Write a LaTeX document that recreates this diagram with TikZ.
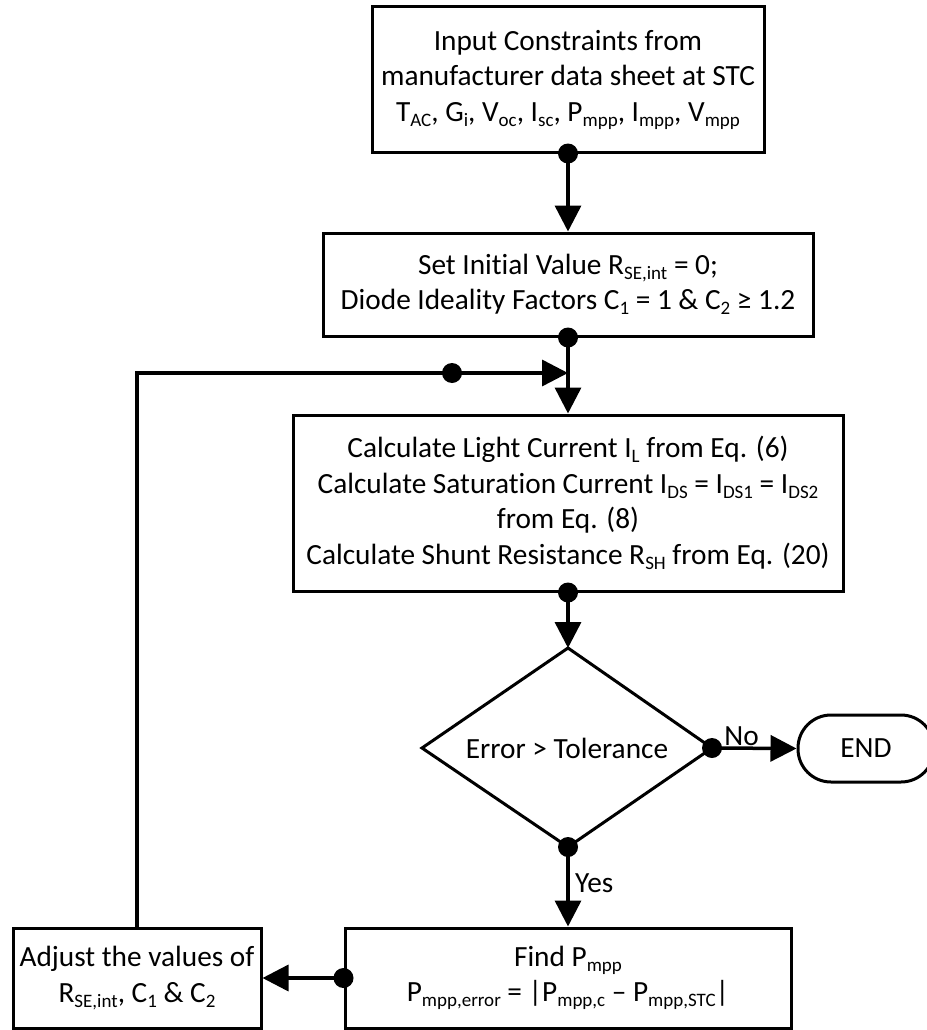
\documentclass[tikz,border=0pt]{standalone}
\usepackage{fontspec}
\setmainfont{Carlito}[Ligatures=NoCommon]
\usetikzlibrary{arrows.meta}
\newcommand\sbs[1]{\raisebox{-0.17em}{\fontsize{19}{19}\selectfont #1}}
\tikzset{
  x=1pt, y=-1pt,
  every node/.style={font=\fontsize{29.3}{35.5}\selectfont, align=center},
  box/.style={draw, line width=3pt, rectangle, inner sep=0pt},
  conn/.style={line width=3.5pt, -{Triangle[length=26pt,width=26pt]}},
  plain/.style={line width=3.5pt},
  dot/.style={circle, fill=black, inner sep=0pt, minimum size=20pt},
}
\begin{document}
\begin{tikzpicture}
\useasboundingbox (0,0) rectangle (926,1030);
% boxes
\node[box, minimum width=392pt, minimum height=145pt] (b1) at (568,79.5)
  {Input Constraints from\\manufacturer data sheet at STC\\
   T\sbs{AC}, G\sbs{i}, V\sbs{oc}, I\sbs{sc}, P\sbs{mpp}, I\sbs{mpp}, V\sbs{mpp}};
\node[box, minimum width=490pt, minimum height=103pt] (b2) at (568,284.5)
  {Set Initial Value R\sbs{SE,int} = 0;\\
   Diode Ideality Factors C\sbs{1} = 1 \& C\sbs{2} ≥ 1.2};
\node[box, minimum width=550pt, minimum height=176pt] (b3) at (568,503)
  {Calculate Light Current I\sbs{L} from Eq. (6)\\
   Calculate Saturation Current I\sbs{DS} = I\sbs{DS1} = I\sbs{DS2}\\
   from Eq. (8)\\
   Calculate Shunt Resistance R\sbs{SH} from Eq. (20)};
% decision
\coordinate (dt) at (568,648);
\coordinate (dr) at (712,748);
\coordinate (db) at (568,847);
\coordinate (dl) at (422,748);
\draw[line width=3pt, line join=miter] (dt) -- (dr) -- (db) -- (dl) -- cycle;
\node (dia) at (567,748) {Error > Tolerance};
\node[box, rounded corners=33pt, minimum width=136pt, minimum height=67pt] (end) at (866,748.5) {END};
\node[box, minimum width=446pt, minimum height=100pt] (b4) at (568,978)
  {Find P\sbs{mpp}\\
   P\sbs{mpp,error} = |P\sbs{mpp,c} – P\sbs{mpp,STC}|};
\node[box, minimum width=248pt, minimum height=100pt] (b5) at (137,978)
  {Adjust the values of\\
   R\sbs{SE,int}, C\sbs{1} \& C\sbs{2}};
% junction points
\coordinate (j) at (568,373);
\coordinate (lc) at (137,373);
\coordinate (ld) at (452,373);
% connectors
\draw[conn] (b1.south) -- (b2.north);
\draw[plain] (b2.south) -- (j);
\draw[conn] (j) -- (b3.north);
\draw[conn] (b3.south) -- (dt);
\draw[conn] (dr) -- node[above, pos=0.35, yshift=-3pt] (no) {No} (end.west);
\draw[conn] (db) -- node[right, pos=0.45, xshift=2pt] (yes) {Yes} (b4.north);
\draw[conn] (b4.west) -- (b5.east);
\draw[plain, line join=miter] (b5.north) -- (lc) -- (ld);
\draw[conn] (ld) -- (j);
% dots
\node[dot] (d1) at (b1.south) {};
\node[dot] (d2) at (b2.south) {};
\node[dot] (d3) at (b3.south) {};
\node[dot] (d4) at (dr) {};
\node[dot] (d5) at (db) {};
\node[dot] (d6) at (b4.west) {};
\node[dot] (d7) at (ld) {};
\end{tikzpicture}
\end{document}
